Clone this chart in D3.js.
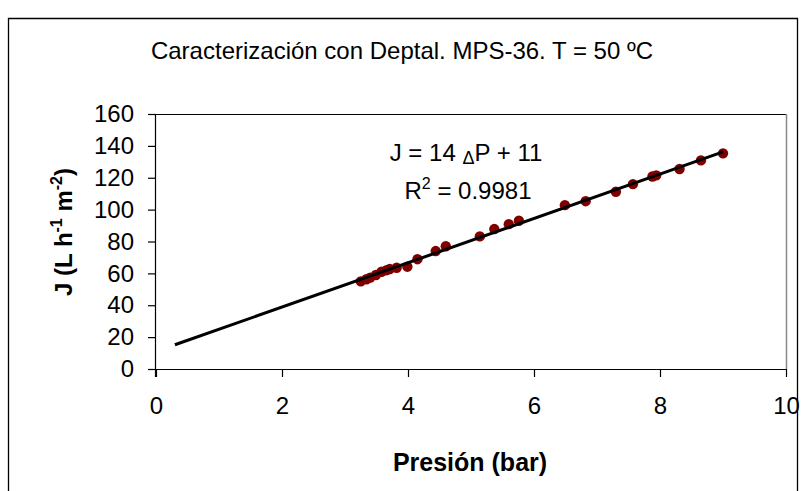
<!DOCTYPE html>
<html><head><meta charset="utf-8">
<script src="https://cdn.jsdelivr.net/npm/d3@7"></script>
<style>body{margin:0;background:#fff}text{font-family:"Liberation Sans",Arial,sans-serif}</style>
</head><body><svg id="c" width="806" height="491"></svg>
<script>
const titleText = "Caracterización con Deptal. MPS-36. T = 50 ºC";
const pressure = [3.25,3.34,3.40,3.49,3.58,3.66,3.71,3.82,3.99,4.15,4.44,4.60,5.14,5.37,5.60,5.76,6.49,6.82,7.30,7.57,7.88,7.94,8.31,8.65,9.00];
const flux = [55.0,56.3,57.3,59.0,61.0,62.0,62.7,63.5,64.2,68.9,74.0,77.0,83.2,87.8,90.9,93.0,102.8,105.3,111.2,116.0,120.8,121.5,125.5,130.9,135.3];
const xTicks = [0,2,4,6,8,10];
const yTicks = [0,20,40,60,80,100,120,140,160];
const trendStart = 0.3;

const svg = d3.select("#c");
const L=156,R=786,T=114,B=369;
const x = d3.scaleLinear().domain([0,10]).range([L,R]);
const y = d3.scaleLinear().domain([0,160]).range([B,T]);
const FS = 24;

// outer frame
svg.append("path").attr("d",`M8.5,491 V18.5 H797.5 V491`).attr("fill","none").attr("stroke","#000").attr("stroke-width",1.3);

svg.append("text").attr("x",402).attr("y",59).attr("text-anchor","middle").attr("font-size",FS).text(titleText);

// plot area border top/right
svg.append("line").attr("x1",L).attr("x2",R).attr("y1",T+0.5).attr("y2",T+0.5).attr("stroke","#000").attr("stroke-width",1.2);
svg.append("line").attr("x1",R+0.5).attr("x2",R+0.5).attr("y1",T).attr("y2",B).attr("stroke","#888").attr("stroke-width",1.5);

const xa = svg.append("g").attr("transform",`translate(0,${B})`).call(d3.axisBottom(x).tickValues(xTicks).tickSize(8).tickPadding(20));
const ya = svg.append("g").attr("transform",`translate(${L},0)`).call(d3.axisLeft(y).tickValues(yTicks).tickSize(8).tickPadding(14));
[xa,ya].forEach(g=>{g.selectAll("path,line").attr("stroke","#000").attr("stroke-width",1.2);g.selectAll("text").attr("font-size",FS).attr("fill","#000").attr("font-family","Liberation Sans, Arial, sans-serif");});
xa.select(".domain").attr("d",`M${L-8},0.5H${R}`);
ya.select(".domain").attr("d",`M-0.5,${T}V${B+8}`);

// regression
const n=pressure.length, mx=d3.mean(pressure), my=d3.mean(flux);
let sxy=0,sxx=0; for(let i=0;i<n;i++){sxy+=(pressure[i]-mx)*(flux[i]-my);sxx+=(pressure[i]-mx)**2;}
const slope=sxy/sxx, icpt=my-slope*mx;
const xEnd=d3.max(pressure);

svg.selectAll("circle").data(pressure).join("circle")
 .attr("cx",d=>x(d)).attr("cy",(d,i)=>y(flux[i])).attr("r",5.2).attr("fill","#800000");
svg.append("line").attr("x1",x(trendStart)).attr("y1",y(icpt+slope*trendStart)).attr("x2",x(xEnd)).attr("y2",y(icpt+slope*xEnd))
 .attr("stroke","#000").attr("stroke-width",3);

// equation
const eq = svg.append("text").attr("x",466).attr("y",161).attr("text-anchor","middle").attr("font-size",FS);
eq.append("tspan").text("J = 14 ");
eq.append("tspan").attr("font-size",18).attr("dy",3).text("Δ");
eq.append("tspan").attr("dy",-3).text("P + 11");
const r2 = svg.append("text").attr("x",468).attr("y",199).attr("text-anchor","middle").attr("font-size",FS);
r2.append("tspan").text("R");
r2.append("tspan").attr("font-size",16).attr("dy",-10).text("2");
r2.append("tspan").attr("dy",10).text(" = 0.9981");

// axis titles
svg.append("text").attr("x",470).attr("y",471).attr("text-anchor","middle").attr("font-size",25).attr("font-weight","bold").text("Presión (bar)");
const yt = svg.append("text").attr("transform",`translate(72,232) rotate(-90)`).attr("text-anchor","middle").attr("font-size",FS).attr("font-weight","bold");
yt.append("tspan").text("J (L h");
yt.append("tspan").attr("font-size",16).attr("dy",-10).text("-1");
yt.append("tspan").attr("dy",10).text(" m");
yt.append("tspan").attr("font-size",16).attr("dy",-10).text("-2");
yt.append("tspan").attr("dy",10).text(")");
</script></body></html>
